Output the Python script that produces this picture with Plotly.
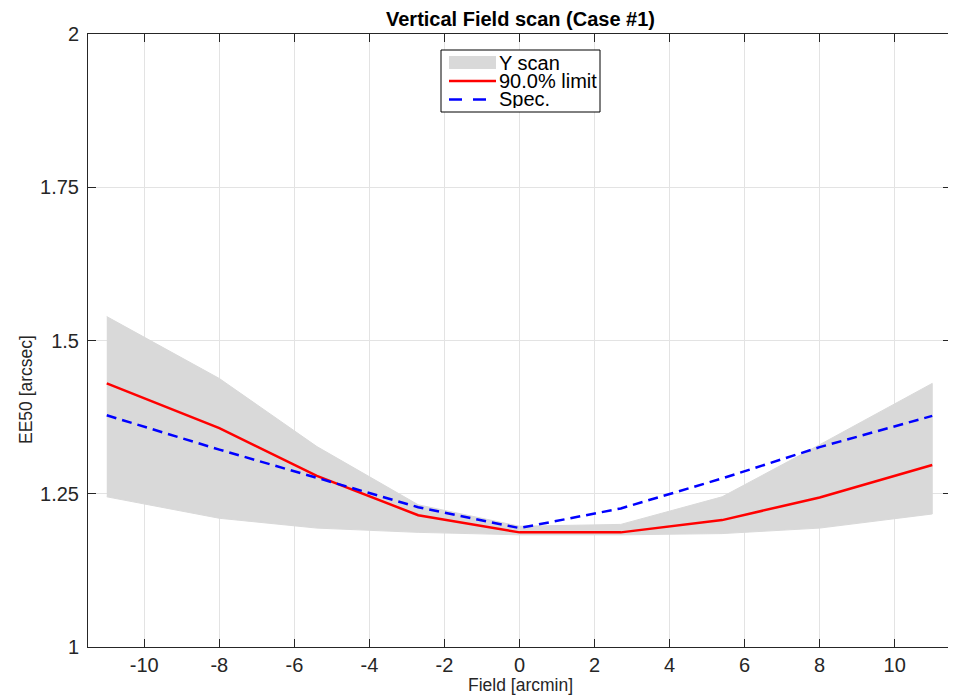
import plotly.graph_objects as go

field = [-11, -8, -5.4, -2.7, 0, 2.7, 5.4, 8, 11]
scan_upper = [1.539, 1.438, 1.327, 1.232, 1.197, 1.200, 1.245, 1.330, 1.430]
scan_lower = [1.245, 1.210, 1.194, 1.187, 1.183, 1.183, 1.185, 1.194, 1.217]
limit90 = [1.430, 1.357, 1.279, 1.215, 1.187, 1.187, 1.207, 1.244, 1.297]
spec = [1.378, 1.322, 1.276, 1.228, 1.194, 1.226, 1.275, 1.326, 1.377]

x_ticks = [-10, -8, -6, -4, -2, 0, 2, 4, 6, 8, 10]
y_ticks = [1, 1.25, 1.5, 1.75, 2]
y_tick_labels = ["1", "1.25", "1.5", "1.75", "2"]
legend_names = ["Y scan", "90.0% limit", "Spec."]

FONT = "Liberation Sans, Arial, Helvetica, sans-serif"
OFF = 8  # page body margin offset
W, H = 956 - OFF, 695 - OFF
# desired plot area in page pixels: left 88, right 951, top 34, bottom 647
L, T = 88 - OFF, 34 - OFF
R = W - (951 - OFF)
B = H - (647 - OFF)
PW, PH = W - L - R, H - T - B


def px(x):
    return (x - OFF - L) / PW


def py(y):
    return (H - B - (y - OFF)) / PH


fig = go.Figure()
fig.add_trace(go.Scatter(
    x=field + field[::-1], y=scan_upper + scan_lower[::-1],
    fill="toself", fillcolor="#d9d9d9", line=dict(color="#d9d9d9", width=1),
    mode="lines", name=legend_names[0], hoverinfo="skip", showlegend=False))
fig.add_trace(go.Scatter(
    x=field, y=limit90, mode="lines", name=legend_names[1], showlegend=False,
    line=dict(color="#ff0000", width=2.5)))
fig.add_trace(go.Scatter(
    x=field, y=spec, mode="lines", name=legend_names[2], showlegend=False,
    line=dict(color="#0000ff", width=2.5, dash="10px,6px")))

shapes = [
    dict(type="rect", xref="paper", yref="paper", x0=px(441), x1=px(600), y0=py(112), y1=py(50),
         line=dict(color="black", width=1), fillcolor="white", layer="above"),
    dict(type="rect", xref="paper", yref="paper", x0=px(449), x1=px(496), y0=py(69), y1=py(56),
         line=dict(width=0), fillcolor="#d9d9d9", layer="above"),
    dict(type="line", xref="paper", yref="paper", x0=px(449), x1=px(496), y0=py(81), y1=py(81),
         line=dict(color="#ff0000", width=2.5), layer="above"),
    dict(type="line", xref="paper", yref="paper", x0=px(449), x1=px(496), y0=py(99.5), y1=py(99.5),
         line=dict(color="#0000ff", width=2.5, dash="13px,11px"), layer="above"),
]
annotations = [
    dict(text="<b>Vertical Field scan (Case #1)</b>", xref="paper", yref="paper",
         x=px(520), y=py(19), xanchor="center", yanchor="middle", showarrow=False,
         font=dict(size=20, color="black")),
    dict(text="Field [arcmin]", xref="paper", yref="paper",
         x=px(520.5), y=py(685), xanchor="center", yanchor="middle", showarrow=False,
         font=dict(size=17.5, color="#262626")),
    dict(text="EE50 [arcsec]", xref="paper", yref="paper", textangle=-90,
         x=px(26), y=py(390), xanchor="center", yanchor="middle", showarrow=False,
         font=dict(size=17.5, color="#262626")),
]
for i, yy in enumerate([63, 81, 99]):
    annotations.append(dict(text=legend_names[i], xref="paper", yref="paper",
                            x=px(498), y=py(yy), xanchor="left", yanchor="middle",
                            height=18, borderpad=0, valign="middle",
                            showarrow=False, font=dict(size=20, color="black")))

fig.update_layout(
    width=W, height=H,
    margin=dict(l=L, r=R, t=T, b=B),
    paper_bgcolor="white", plot_bgcolor="white",
    font=dict(family=FONT, color="#262626"),
    showlegend=False,
    shapes=shapes, annotations=annotations,
)
fig.update_xaxes(
    range=[-11.5, 11.5], tickvals=x_ticks, ticktext=[str(v) for v in x_ticks],
    showgrid=True, gridcolor="#e3e3e3", gridwidth=1, automargin=False,
    showline=True, linecolor="#262626", linewidth=1, mirror="ticks",
    ticks="inside", ticklen=8, tickcolor="#262626",
    tickfont=dict(size=20, color="#262626"), zeroline=False)
fig.update_yaxes(
    range=[1, 2], tickvals=y_ticks, ticktext=y_tick_labels,
    showgrid=True, gridcolor="#e3e3e3", gridwidth=1, automargin=False,
    showline=True, linecolor="#262626", linewidth=1, mirror="ticks",
    ticks="inside", ticklen=8, tickcolor="#262626", ticklabelstandoff=4,
    tickfont=dict(size=20, color="#262626"), zeroline=False)

fig.write_html("out.html")
